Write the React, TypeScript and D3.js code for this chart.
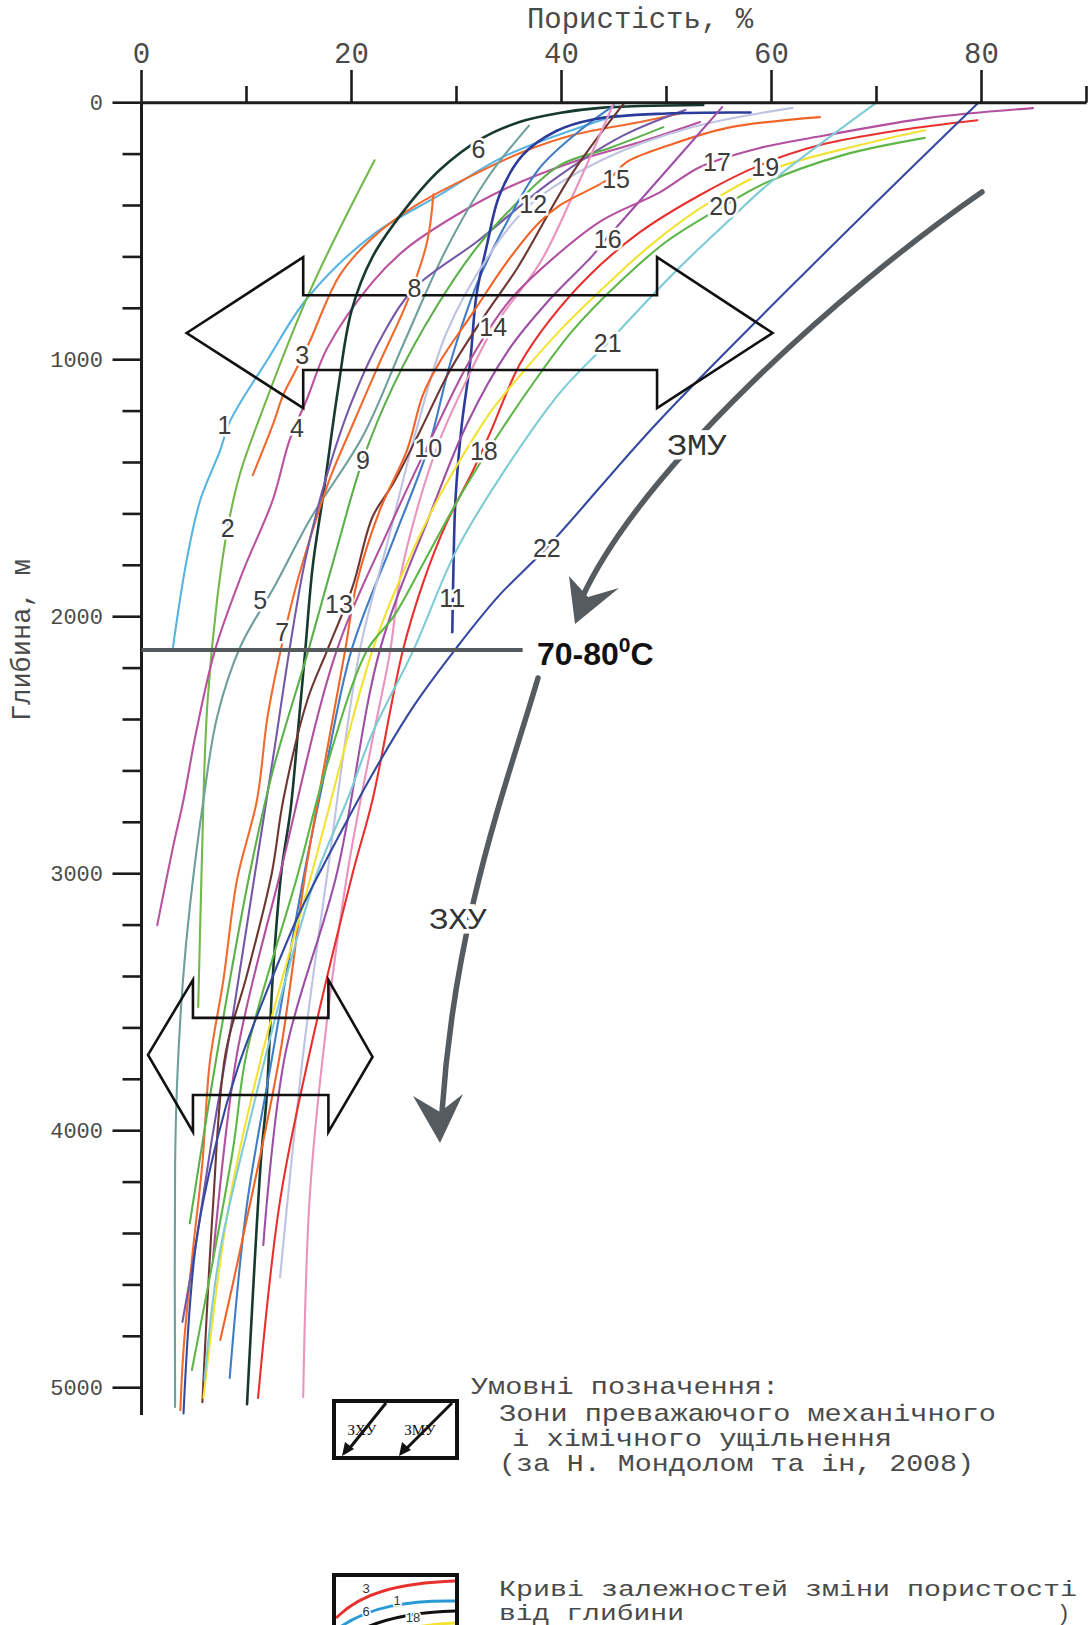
import React from "react";
import * as d3 from "d3";

type P = [number, number]; // [porosity %, depth m]

const xTickValues = [0, 10, 20, 30, 40, 50, 60, 70, 80, 90];
const xTickLabelValues = [0, 20, 40, 60, 80];
const yTickValues = d3.range(0, 5001, 200);
const yTickLabelValues = [0, 1000, 2000, 3000, 4000, 5000];

const curve1: P[] = [[45.3, 48], [34.8, 204], [28.4, 359], [22.0, 515], [15.8, 760], [12.0, 1000], [8.4, 1242], [7.5, 1352], [5.6, 1546], [4.3, 1780], [3.0, 2118]];
const curve2: P[] = [[22.2, 224], [16.0, 737], [11.0, 1254], [9.4, 1441], [8.2, 1655], [7.2, 1935], [6.3, 2324], [5.95, 2635], [5.7, 3024], [5.4, 3519]];
const curve3: P[] = [[51.5, 40], [47.5, 75], [41.1, 126], [36.3, 192], [31.6, 281], [26.2, 398], [22.0, 526], [18.9, 670], [16.0, 931], [14.8, 1032], [13.5, 1137], [12.5, 1254], [10.6, 1449]];
const curve4: P[] = [[53.2, 75], [47.5, 153], [41.1, 231], [34.8, 332], [30.0, 437], [25.3, 565], [22.0, 698], [17.7, 954], [15.8, 1149], [14.1, 1313], [12.5, 1546], [9.6, 1830], [7.0, 2130], [5.2, 2450], [4.0, 2713], [3.0, 2896], [1.5, 3200]];
const curve5: P[] = [[36.9, 89], [33.0, 290], [29.0, 572], [25.0, 934], [21.1, 1296], [16.1, 1618], [12.7, 1880], [9.4, 2118], [7.2, 2390], [5.9, 2713], [4.6, 3130], [3.95, 3413], [3.4, 3803], [3.2, 4126], [3.2, 5075]];
const curve6: P[] = [[53.5, 9], [43.7, 20], [39.8, 40], [36.0, 75], [32.5, 137], [28.4, 262], [25.0, 420], [22.0, 600], [20.0, 810], [18.7, 1120], [17.4, 1500], [16.3, 1806], [15.6, 2129], [15.0, 2400], [14.2, 2750], [13.3, 3000], [12.5, 3402], [11.9, 3881], [11.4, 4100], [10.05, 5064]];
const curve7: P[] = [[27.8, 356], [27.2, 542], [25.3, 775], [22.7, 1009], [20.1, 1254], [18.0, 1456], [16.4, 1651], [14.8, 1869], [13.2, 2141], [12.0, 2390], [11.0, 2713], [9.1, 3024], [7.8, 3413], [6.5, 3736], [5.8, 4126], [4.9, 4464], [4.0, 4853], [3.7, 5088]];
const curve8: P[] = [[51.8, 28], [45.8, 129], [38.9, 310], [32.0, 539], [26.0, 721], [23.1, 894], [20.1, 1155], [17.6, 1457], [15.6, 1779], [14.2, 2101], [12.7, 2504], [10.7, 3027], [8.7, 3551], [6.7, 4034], [5.2, 4436], [3.9, 4744]];
const curve9: P[] = [[49.7, 95], [44.6, 176], [39.9, 242], [36.0, 380], [32.0, 560], [28.0, 800], [24.0, 1100], [21.1, 1387], [18.5, 1750], [15.9, 2130], [12.5, 2600], [10.3, 3000], [7.2, 3700], [4.6, 4360]];
const curve10: P[] = [[45.0, 10], [42.0, 100], [38.0, 250], [35.0, 450], [32.0, 700], [29.5, 1000], [27.3, 1344], [24.0, 1700], [20.0, 2130], [17.5, 2600], [15.5, 3000], [12.5, 3700], [10.0, 4300], [8.4, 4962]];
const curve11: P[] = [[58.0, 38], [50.0, 42], [43.0, 65], [39.5, 110], [36.3, 204], [34.1, 359], [32.9, 554], [31.9, 749], [31.3, 1009], [30.5, 1254], [29.9, 1546], [29.7, 1830], [29.6, 2060]];
const curve12: P[] = [[62.0, 20], [52.0, 100], [44.0, 220], [37.2, 390], [33.0, 600], [29.0, 900], [26.0, 1300], [23.5, 1700], [20.8, 2130], [17.7, 3000], [15.4, 3700], [13.2, 4570]];
const curve13: P[] = [[46.0, 0], [41.1, 270], [35.8, 643], [32.9, 815], [29.4, 1040], [26.5, 1280], [24.0, 1480], [22.0, 1612], [20.1, 1884], [17.7, 2130], [15.8, 2324], [13.5, 2713], [12.4, 3000], [10.0, 3400], [8.0, 3700], [6.8, 4300], [5.8, 5056]];
const curve14: P[] = [[44.9, 9], [41.1, 359], [38.0, 620], [33.5, 877], [30.3, 1137], [28.4, 1313], [26.5, 1546], [24.6, 1857], [23.7, 2130], [21.8, 2519], [19.6, 3000], [17.3, 3700], [16.0, 4271], [15.4, 5036]];
const curve15: P[] = [[64.6, 56], [55.8, 98], [50.3, 165], [46.2, 231], [44.6, 294], [39.9, 398], [37.9, 465], [34.8, 620], [31.6, 815], [28.4, 1009], [26.8, 1137], [25.3, 1351], [22.7, 1585], [20.5, 1869], [19.4, 2130], [17.5, 2558], [15.6, 3000], [13.2, 3700], [9.4, 4464], [7.5, 4814]];
const curve16: P[] = [[55.3, 17], [45.6, 468], [44.3, 527], [43.0, 593], [39.0, 760], [35.0, 960], [31.0, 1250], [27.5, 1600], [22.7, 2130], [18.6, 3000], [13.7, 3700], [11.6, 4445]];
const curve17: P[] = [[84.9, 21], [74.8, 60], [65.3, 126], [58.9, 176], [53.2, 250], [49.4, 348], [43.9, 457], [39.9, 581], [35.1, 768], [31.3, 1001], [27.5, 1313], [23.5, 1663], [18.6, 2130], [13.2, 3000], [9.1, 3700], [6.8, 4500]];
const curve18: P[] = [[79.6, 68], [72.2, 107], [64.6, 165], [58.9, 243], [53.2, 359], [47.5, 503], [42.7, 670], [38.9, 845], [36.0, 1020], [33.2, 1285], [31.6, 1429], [29.0, 1640], [26.8, 1870], [24.9, 2130], [22.0, 2713], [20.1, 3000], [16.0, 3700], [13.2, 4271], [11.1, 5040]];
const curve19: P[] = [[74.6, 107], [68.4, 165], [59.9, 262], [53.7, 398], [48.5, 554], [44.0, 720], [40.0, 880], [36.5, 1040], [33.3, 1200], [30.5, 1380], [28.0, 1560], [24.6, 1857], [22.0, 2130], [16.2, 3000], [11.5, 3700], [8.4, 4271], [5.9, 5040]];
const curve20: P[] = [[74.6, 137], [66.8, 204], [59.6, 309], [55.4, 403], [50.0, 540], [45.5, 700], [41.0, 890], [37.5, 1080], [34.0, 1290], [30.5, 1520], [27.0, 1780], [24.0, 2000], [21.5, 2130], [17.5, 2600], [14.9, 3000], [10.0, 3700], [8.7, 4075], [4.8, 4931]];
const curve21: P[] = [[70.0, 0], [59.6, 320], [56.3, 445], [50.9, 655], [44.4, 934], [39.9, 1126], [34.8, 1417], [30.0, 1741], [25.9, 2130], [22.0, 2452], [19.6, 2713], [16.7, 3000], [13.2, 3490], [10.8, 3881], [7.5, 4464], [6.0, 4970]];
const curve22: P[] = [[79.6, 4], [64.2, 620], [49.1, 1246], [38.6, 1731], [34.0, 1920], [30.0, 2121], [26.0, 2343], [22.1, 2605], [18.1, 2907], [15.1, 3148], [12.2, 3430], [9.2, 3752], [7.2, 4034], [5.2, 4436], [4.0, 5100]];

const curves: P[][] = [curve1, curve2, curve3, curve4, curve5, curve6, curve7, curve8, curve9, curve10, curve11, curve12, curve13, curve14, curve15, curve16, curve17, curve18, curve19, curve20, curve21, curve22];
const curveNames = ["1", "2", "3", "4", "5", "6", "7", "8", "9", "10", "11", "12", "13", "14", "15", "16", "17", "18", "19", "20", "21", "22"];
const curveColors = ["#56b4e3", "#72b84a", "#f0692d", "#b9539f", "#6e9f9c", "#173a30", "#ef6b2e", "#7559a8", "#5cb04b", "#3f7dc6", "#2c3c9c", "#bfc3e2", "#6e3630", "#ea94bd", "#f06428", "#9d4fa6", "#b24f9f", "#e8312e", "#f2e232", "#5db647", "#7ecbd6", "#34499f"];
const labelPoints: P[] = [[7.9, 1254], [8.2, 1655], [15.3, 982], [14.8, 1266], [11.3, 1935], [32.1, 181], [13.4, 2061], [26.0, 721], [21.1, 1389], [27.3, 1345], [29.6, 1928], [37.3, 395], [18.8, 1952], [33.5, 874], [45.2, 298], [44.4, 531], [54.8, 229], [32.6, 1357], [59.4, 250], [55.4, 403], [44.4, 934], [38.6, 1731]];

// annotation geometry in data units
const tempDepth = 2130;
const tempLineEnd = 36.3;
const bigArrow: P[] = [[4.3, 896], [15.4, 601], [15.4, 749], [49.1, 749], [49.1, 601], [60.1, 896], [49.1, 1188], [49.1, 1040], [15.4, 1040], [15.4, 1188]];
const smallArrow: P[] = [[0.62, 3705], [4.9, 3413], [4.9, 3561], [17.8, 3561], [17.8, 3413], [22.0, 3713], [17.8, 4005], [17.8, 3861], [4.9, 3861], [4.9, 4005]];

const W = 1089;
const H = 1625;

export default function App() {
  const x = d3.scaleLinear().domain([0, 90]).range([141.5, 1086.5]);
  const y = d3.scaleLinear().domain([0, 5000]).range([102.7, 1387.7]);
  const line = d3
    .line<P>()
    .x((d) => x(d[0]))
    .y((d) => y(d[1]))
    .curve(d3.curveCatmullRom.alpha(0.5));
  const poly = (pts: P[]) => pts.map((p) => `${x(p[0])},${y(p[1])}`).join(" ");

  const mono = "'Courier New', 'Liberation Mono', monospace";
  const narrow = "'Liberation Sans Narrow', 'Arial Narrow', 'Liberation Sans', Arial, sans-serif";
  const axisColor = "#1c1c1c";
  const textColor = "#4a4a4a";
  const arrowGray = "#555b5f";

  return (
    <svg width={W} height={H} style={{ position: "absolute", left: 0, top: 0, background: "#fff" }} xmlns="http://www.w3.org/2000/svg">
      <rect x={0} y={0} width={W} height={H} fill="#fff" />
      <defs>
        <clipPath id="legClip">
          <rect x={336} y={1577} width={119} height={60} />
        </clipPath>
      </defs>

      {/* curves */}
      <g fill="none" strokeLinecap="round" strokeLinejoin="round">
        {curves.map((c, i) => (
          <path key={i} d={line(c) || ""} stroke={curveColors[i]} strokeWidth={i === 5 || i === 10 ? 2.6 : 2.1} />
        ))}
      </g>

      {/* axes */}
      <line x1={x(0)} x2={x(90)} y1={y(0)} y2={y(0)} stroke={axisColor} strokeWidth={3} />
      <line x1={x(0)} x2={x(0)} y1={y(0)} y2={1415} stroke={axisColor} strokeWidth={3} />
      {xTickValues.map((v) => (
        <line key={v} x1={x(v)} x2={x(v)} y1={y(0)} y2={xTickLabelValues.includes(v) ? 70 : 86} stroke={axisColor} strokeWidth={2.6} />
      ))}
      {xTickLabelValues.map((v) => (
        <text key={v} x={x(v)} y={63} textAnchor="middle" fontFamily={mono} fontSize={29} fill={textColor}>
          {v}
        </text>
      ))}
      {yTickValues.map((v) => (
        <line key={v} x1={x(0) - (v % 1000 === 0 ? 29 : 19)} x2={x(0)} y1={y(v)} y2={y(v)} stroke={axisColor} strokeWidth={2.6} />
      ))}
      {yTickLabelValues.map((v) => (
        <text key={v} x={103} y={y(v)} dy="0.35em" textAnchor="end" fontFamily={mono} fontSize={22} fill={textColor}>
          {v}
        </text>
      ))}
      <text x={640} y={28} textAnchor="middle" fontFamily={mono} fontSize={29} fill={textColor}>
        Пористість, %
      </text>
      <text transform={`translate(30, 640) rotate(-90)`} textAnchor="middle" fontFamily={mono} fontSize={27} fill={textColor}>
        Глибина, м
      </text>

      {/* temperature line */}
      <line x1={x(0)} x2={x(tempLineEnd)} y1={y(tempDepth)} y2={y(tempDepth)} stroke="#55595c" strokeWidth={4} />
      <text x={537} y={665} fontFamily="'Liberation Sans', Arial, sans-serif" fontWeight="bold" fontSize={32} fill="#111">
        70-80
        <tspan dy={-13} fontSize={21}>0</tspan>
        <tspan dy={13}>C</tspan>
      </text>

      {/* double arrows */}
      <polygon points={poly(bigArrow)} fill="none" stroke="#111" strokeWidth={2.6} strokeLinejoin="miter" />
      <polygon points={poly(smallArrow)} fill="none" stroke="#111" strokeWidth={2.6} strokeLinejoin="miter" />

      {/* ЗМУ arrow */}
      <path d="M982,192 C840,290 640,470 581,600" fill="none" stroke={arrowGray} strokeWidth={5.5} strokeLinecap="round" />
      <polygon points="575,624 569,576 588,597 619,588" fill={arrowGray} />
      <text x={697} y={455} textAnchor="middle" fontFamily={mono} fontSize={30} textLength={60} lengthAdjust="spacingAndGlyphs" fill="#333" stroke="#fff" strokeWidth={9} paintOrder="stroke">
        ЗМУ
      </text>

      {/* ЗХУ arrow */}
      <path d="M538,678 C505,790 455,920 442,1112" fill="none" stroke={arrowGray} strokeWidth={5.5} strokeLinecap="round" />
      <polygon points="440,1143 413,1096 440,1112 463,1094" fill={arrowGray} />
      <text x={458} y={929} textAnchor="middle" fontFamily={mono} fontSize={30} textLength={58} lengthAdjust="spacingAndGlyphs" fill="#333" stroke="#fff" strokeWidth={9} paintOrder="stroke">
        ЗХУ
      </text>

      {/* curve labels */}
      {labelPoints.map((p, i) => (
        <text key={i} x={x(p[0])} y={y(p[1])} dy="0.36em" textAnchor="middle" fontFamily={narrow} fontSize={25} fill="#3c3c3c" stroke="#fff" strokeWidth={5} paintOrder="stroke">
          {curveNames[i]}
        </text>
      ))}

      {/* legend */}
      <g fontFamily={mono} fontSize={24} fill={textColor}>
        <text x={471} y={1394} textLength={308} lengthAdjust="spacingAndGlyphs">Умовні позначення:</text>
        <text x={499} y={1421} textLength={497} lengthAdjust="spacingAndGlyphs">Зони преважаючого механічного</text>
        <text x={512} y={1446} textLength={380} lengthAdjust="spacingAndGlyphs">і хімічного ущільнення</text>
        <text x={499} y={1471} textLength={475} lengthAdjust="spacingAndGlyphs">(за Н. Мондолом та ін, 2008)</text>
      </g>
      <g fontFamily={mono} fontSize={22} fill={textColor}>
        <text x={499} y={1596} textLength={578} lengthAdjust="spacingAndGlyphs">Криві залежностей зміни пористості</text>
        <text x={499} y={1620} textLength={185} lengthAdjust="spacingAndGlyphs">від глибини</text>
        <text x={1057} y={1620}>)</text>
      </g>
      <rect x={334} y={1401} width={123} height={57} fill="#fff" stroke="#111" strokeWidth={4} />
      <line x1={386} y1={1403} x2={349} y2={1449} stroke="#111" strokeWidth={3} />
      <polygon points="342,1456 345,1442 354,1449" fill="#111" />
      <line x1={452} y1={1403} x2={406} y2={1449} stroke="#111" strokeWidth={3} />
      <polygon points="399,1456 402,1442 411,1450" fill="#111" />
      <text x={362} y={1435} textAnchor="middle" fontFamily="'Liberation Serif', serif" fontSize={15} fill="#111">ЗХУ</text>
      <text x={420} y={1435} textAnchor="middle" fontFamily="'Liberation Serif', serif" fontSize={15} fill="#111">ЗМУ</text>

      <rect x={334} y={1575} width={123} height={80} fill="#fff" stroke="#111" strokeWidth={4} />
      <g clipPath="url(#legClip)" fill="none" strokeWidth={3}>
        <path d="M336,1618 C362,1592 400,1583 457,1581" stroke="#e8312e" />
        <path d="M336,1630 C368,1606 410,1600 457,1601" stroke="#2a9ad6" />
        <path d="M340,1642 C370,1620 410,1612 457,1611" stroke="#111" />
        <path d="M345,1654 C380,1632 420,1624 457,1623" stroke="#f2e232" />
      </g>
      <g fontFamily={narrow} fontSize={13} fill="#333" stroke="#fff" strokeWidth={3} paintOrder="stroke" textAnchor="middle">
        <text x={366} y={1593}>3</text>
        <text x={397} y={1605}>1</text>
        <text x={366} y={1616}>6</text>
        <text x={413} y={1622}>18</text>
      </g>
    </svg>
  );
}
